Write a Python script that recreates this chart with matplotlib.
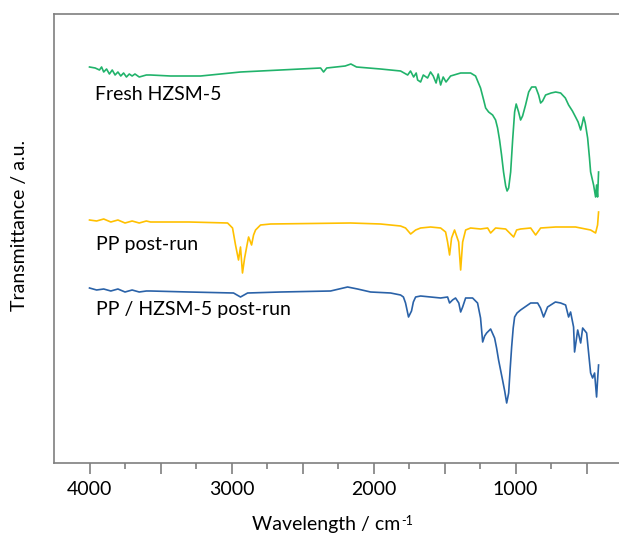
import numpy as np
import matplotlib
matplotlib.use("Agg")
import matplotlib.pyplot as plt

plt.rcParams['font.family'] = ['Lato', 'DejaVu Sans']

# Fresh HZSM-5 (wavenumber, transmittance a.u.)
fresh_w = [4000, 3960, 3930, 3915, 3900, 3880, 3860, 3840, 3820, 3800, 3780, 3760,
           3740, 3720, 3700, 3680, 3650, 3600, 3570, 3430, 3218, 2937, 2655, 2373,
           2352, 2330, 2200, 2160, 2120, 1951, 1810, 1760, 1740, 1718, 1700, 1690,
           1669, 1650, 1620, 1599, 1580, 1560, 1545, 1528, 1510, 1490, 1458, 1387,
           1317, 1282, 1247, 1225, 1211, 1190, 1162, 1141, 1127, 1113, 1099, 1085,
           1070, 1060, 1049, 1035, 1021, 1007, 996, 979, 965, 951, 930, 908, 887,
           859, 838, 824, 810, 789, 750, 718, 683, 650, 627, 600, 578, 560, 542,
           530, 521, 510, 493, 480, 472, 451, 437, 430, 423, 416]
fresh_t = [396, 395, 393, 396, 391, 394, 389, 393, 388, 391, 387, 390,
           386, 389, 387, 389, 386, 388, 388, 387, 387, 391, 393, 395,
           391, 395, 397, 399, 396, 394, 392, 388, 392, 386, 390, 383,
           381, 388, 385, 391, 387, 380, 389, 378, 386, 381, 387, 390,
           390, 387, 375, 363, 355, 351, 348, 343, 335, 323, 308, 291,
           277, 272, 275, 291, 323, 351, 359, 351, 343, 347, 358, 371, 376,
           376, 368, 360, 362, 368, 370, 371, 370, 365, 358, 352, 346, 341, 333,
           340, 346, 340, 325, 305, 291, 278, 266, 278, 266, 291]

# PP post-run
pp_w = [4000, 3950, 3900, 3850, 3800, 3750, 3700, 3650, 3600, 3570, 3300, 3028,
        2993, 2972, 2951, 2937, 2923, 2908, 2887, 2880, 2859, 2845, 2831, 2796,
        2725, 2162, 1951, 1810, 1775, 1739, 1704, 1669, 1599, 1528, 1493, 1479,
        1465, 1451, 1430, 1401, 1387, 1373, 1352, 1317, 1247, 1197, 1176, 1141,
        1070, 1014, 993, 965, 894, 859, 824, 718, 578, 472, 437, 423, 416]
pp_t = [243, 242, 244, 241, 243, 240, 242, 240, 242, 241, 241, 240,
        235, 218, 203, 216, 190, 205, 221, 226, 218, 228, 233, 238,
        239, 240, 239, 237, 235, 229, 233, 235, 236, 235, 231, 221,
        208, 225, 233, 221, 193, 221, 233, 235, 234, 235, 230, 235,
        234, 226, 233, 234, 235, 228, 235, 236, 236, 233, 230, 238, 251]

# PP / HZSM-5 post-run
mix_w = [4000, 3950, 3900, 3850, 3800, 3750, 3700, 3650, 3600, 3570, 3300, 2986,
         2937, 2887, 2655, 2303, 2183, 2113, 2021, 1880, 1810, 1790, 1775, 1754,
         1733, 1720, 1704, 1669, 1528, 1479, 1465, 1444, 1423, 1400, 1387, 1373,
         1352, 1303, 1268, 1247, 1232, 1218, 1204, 1176, 1148, 1134, 1120, 1106,
         1092, 1077, 1063, 1049, 1038, 1028, 1017, 1007, 990, 965, 894, 845, 825,
         803, 775, 720, 683, 648, 627, 613, 592, 585, 563, 542, 528, 500, 486,
         472, 458, 444, 430, 423, 416]
mix_t = [175, 173, 174, 172, 174, 171, 173, 171, 172, 172, 171, 170,
         166, 170, 171, 172, 176, 174, 171, 170, 168, 166, 160, 146,
         152, 161, 166, 167, 165, 166, 160, 163, 165, 160, 151, 156,
         165, 165, 160, 145, 121, 127, 130, 134, 125, 115, 103, 93,
         83, 72, 60, 70, 95, 116, 135, 146, 150, 153, 160, 160, 155,
         146, 156, 161, 160, 158, 146, 151, 136, 111, 133, 120, 135, 130, 110,
         90, 85, 90, 66, 83, 98]

xmajor = [4000, 3500, 3000, 2500, 2000, 1500, 1000, 500]
xlabels = ['4000', '', '3000', '', '2000', '', '1000', '']
xminor = [3750, 3250, 2750, 2250, 1750, 1250, 750]

fig = plt.figure(figsize=(6.19, 5.34), dpi=100)
ax = fig.add_axes([54 / 619, 71 / 534, 1.02 - 54 / 619, 449 / 534])

ax.plot(fresh_w, fresh_t, color='#21b36b', lw=1.2)
ax.plot(pp_w, pp_t, color='#ffc000', lw=1.2)
ax.plot(mix_w, mix_t, color='#2a62a8', lw=1.2)

ax.set_xlim(4250, 185)
ax.set_ylim(0, 449)
ax.set_xticks(xmajor, xlabels)
ax.set_xticks(xminor, minor=True)
ax.set_yticks([])
ax.tick_params(axis='x', which='major', length=8, width=1.2, color='#7f7f7f',
               labelsize=14, pad=5)
ax.tick_params(axis='x', which='minor', length=4.5, width=1.2, color='#7f7f7f')
for s in ['left', 'bottom', 'top', 'right']:
    ax.spines[s].set_color('#7f7f7f')
    ax.spines[s].set_linewidth(1.2)

ax.text(3958, 363, 'Fresh HZSM-5', fontsize=14, va='baseline')
ax.text(3951, 213, 'PP post-run', fontsize=14, va='baseline')
ax.text(3951, 148, 'PP / HZSM-5 post-run', fontsize=14, va='baseline')

# x label with a plain hyphen superscript, like the original
xl = fig.text(252 / 619, 1 - 530 / 534, 'Wavelength / cm', fontsize=14,
              ha='left', va='baseline')
ax.annotate('-1', xy=(1, 1), xycoords=xl, xytext=(0.5, 1), textcoords='offset points',
            fontsize=9, ha='left', va='top', annotation_clip=False)
fig.text(20 / 619, 1 - 225 / 534, 'Transmittance / a.u.', fontsize=14,
         rotation=90, ha='center', va='center')

fig.savefig('out.png', dpi=100)
